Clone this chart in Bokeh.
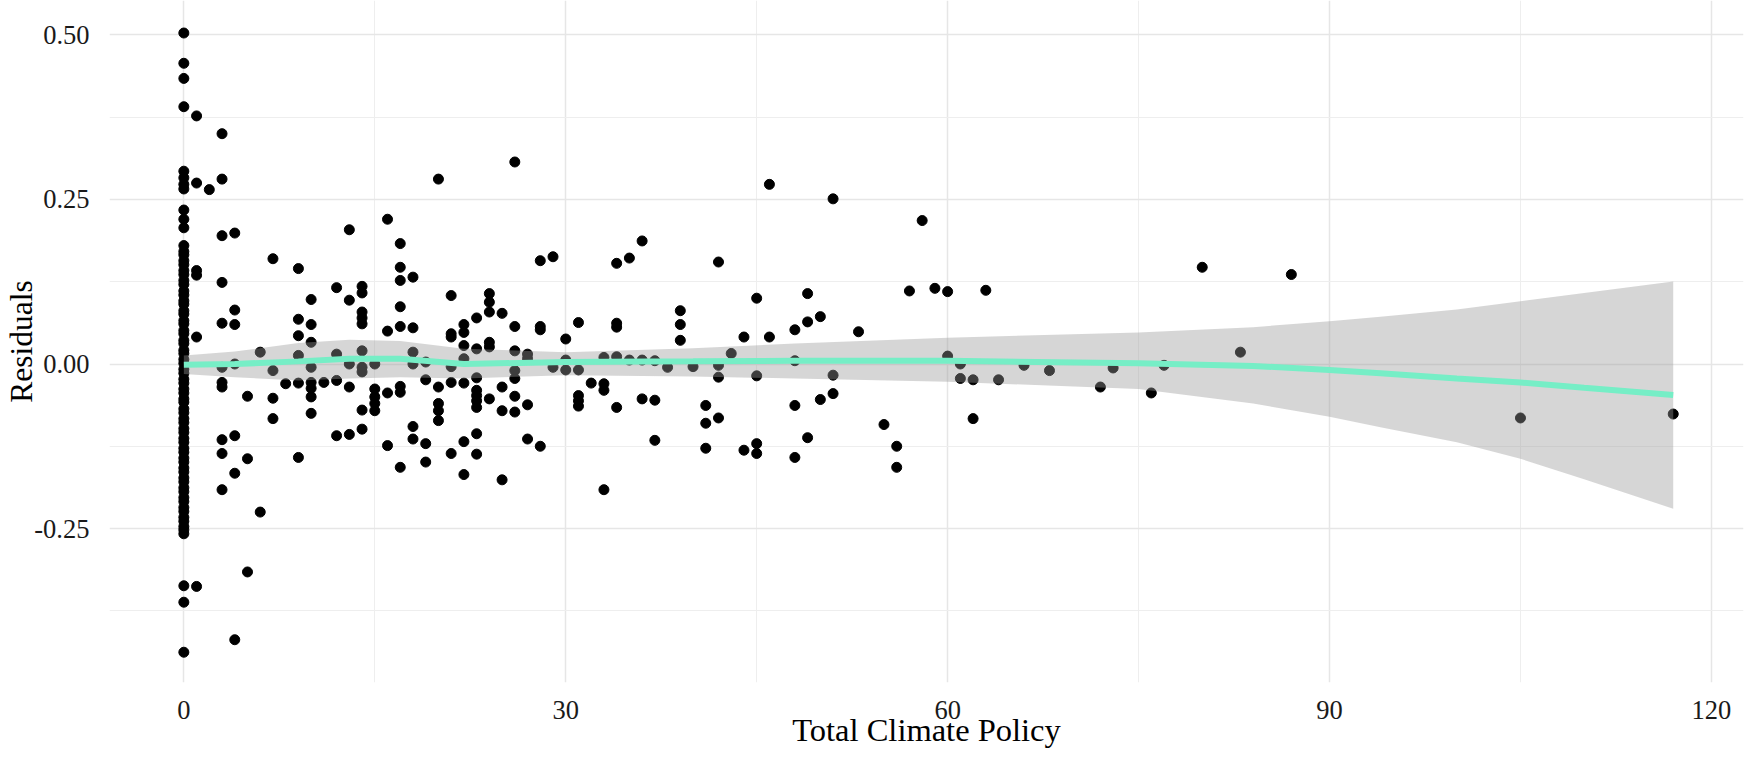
from bokeh.plotting import figure
from bokeh.models import Range1d, FixedTicker, PrintfTickFormatter
from bokeh.embed import file_html
from bokeh.resources import INLINE

# ---- data ----
# residuals of the observations with Total Climate Policy == 0 (dense column)
resid_at_zero = [0.503, 0.457, 0.434, 0.391, 0.293, 0.283, 0.273, 0.266, 0.234, 0.220, 0.207,
                 0.180, 0.171, 0.166, 0.157, 0.151, 0.142, 0.136, 0.127, 0.121, 0.111, 0.105,
                 0.096, 0.091, 0.081, 0.076, 0.066, 0.061, 0.051, 0.046, 0.036, 0.031, 0.021,
                 0.016, 0.007, 0.001, -0.008, -0.014, -0.023, -0.029, -0.038, -0.044, -0.053,
                 -0.058, -0.068, -0.074, -0.083, -0.089, -0.098, -0.104, -0.113, -0.119, -0.128,
                 -0.134, -0.143, -0.149, -0.158, -0.164, -0.173, -0.179, -0.188, -0.194, -0.203,
                 -0.209, -0.218, -0.224, -0.233, -0.239, -0.247, -0.252, -0.258,
                 -0.337, -0.362, -0.438]

# remaining observations (Total Climate Policy > 0)
policy = [1, 1, 1, 1, 1, 1,
          2,
          3, 3, 3, 3, 3, 3, 3, 3, 3, 3, 3,
          4, 4, 4, 4, 4, 4, 4,
          5, 5, 5,
          6, 6,
          7, 7, 7, 7,
          8,
          9, 9, 9, 9, 9, 9,
          10, 10, 10, 10, 10, 10, 10, 10,
          11,
          12, 12, 12, 12,
          13, 13, 13, 13, 13,
          14, 14, 14, 14, 14, 14, 14, 14, 14, 14,
          15, 15, 15, 15, 15,
          16, 16, 16, 16,
          17, 17, 17, 17, 17, 17, 17, 17,
          18, 18, 18, 18, 18, 18,
          19, 19, 19, 19,
          20, 20, 20, 20, 20,
          21, 21, 21, 21, 21, 21,
          22, 22, 22, 22, 22, 22, 22,
          23, 23, 23, 23, 23, 23, 23, 23, 23,
          24, 24, 24, 24, 24, 24,
          25, 25, 25, 25,
          26, 26, 26, 26, 26, 26, 26,
          27, 27, 27, 27,
          28, 28, 28, 28,
          29, 29,
          30, 30, 30,
          31, 31, 31, 31, 31,
          32,
          33, 33, 33, 33,
          34, 34, 34, 34, 34,
          35, 35,
          36, 36, 36,
          37, 37, 37,
          38,
          39, 39, 39,
          40,
          41, 41, 41,
          42, 42, 42, 42,
          43,
          44, 44,
          45, 45, 45, 45,
          46, 46,
          48, 48, 48, 48,
          49, 49, 49,
          50, 50,
          51, 51, 51,
          53, 55, 56, 56, 57, 58, 59, 60, 60, 61, 61, 62, 62, 63, 64, 66, 68,
          72, 73, 76, 77, 80, 83, 87, 105, 117]

residuals = [0.377, 0.275, 0.142, 0.135, 0.041, -0.338,
             0.265,
             0.350, 0.281, 0.195, 0.124, 0.062, -0.005, -0.028, -0.035, -0.115, -0.136, -0.191,
             0.199, 0.082, 0.060, 0.000, -0.109, -0.166, -0.419,
             -0.049, -0.144, -0.316,
             0.018, -0.225,
             0.160, -0.010, -0.052, -0.083,
             -0.030,
             0.145, 0.068, 0.043, 0.013, -0.029, -0.142,
             0.098, 0.060, 0.033, -0.005, -0.028, -0.037, -0.050, -0.075,
             -0.028,
             0.116, 0.015, -0.025, -0.109,
             0.204, 0.097, 0.000, -0.035, -0.107,
             0.118, 0.108, 0.079, 0.070, 0.061, 0.020, -0.005, -0.012, -0.070, -0.099,
             0.000, -0.038, -0.050, -0.060, -0.071,
             0.220, 0.050, -0.044, -0.124,
             0.183, 0.147, 0.127, 0.087, 0.057, -0.034, -0.043, -0.157,
             0.132, 0.055, 0.018, 0.000, -0.095, -0.114,
             0.003, -0.024, -0.121, -0.149,
             0.281, -0.035, -0.060, -0.071, -0.086,
             0.104, 0.046, 0.041, -0.004, -0.028, -0.136,
             0.060, 0.048, 0.028, 0.008, -0.029, -0.118, -0.168,
             0.070, 0.023, -0.021, -0.040, -0.048, -0.056, -0.066, -0.106, -0.137,
             0.107, 0.094, 0.079, 0.033, 0.026, -0.053,
             0.077, -0.035, -0.071, -0.176,
             0.307, 0.057, 0.020, -0.010, -0.022, -0.049, -0.073,
             0.015, 0.008, -0.062, -0.114,
             0.157, 0.057, 0.052, -0.125,
             0.163, -0.005,
             0.038, 0.006, -0.009,
             0.063, -0.009, -0.048, -0.056, -0.064,
             -0.029,
             0.010, -0.030, -0.040, -0.191,
             0.153, 0.062, 0.056, 0.011, -0.066,
             0.161, 0.006,
             0.187, 0.006, -0.053,
             0.005, -0.055, -0.116,
             -0.005,
             0.081, 0.060, 0.036,
             -0.004,
             -0.063, -0.090, -0.128,
             0.155, -0.002, -0.020, -0.082,
             0.016,
             0.041, -0.131,
             0.100, -0.018, -0.121, -0.136,
             0.273, 0.041,
             0.052, 0.005, -0.063, -0.142,
             0.107, 0.064, -0.112,
             0.072, -0.054,
             0.251, -0.017, -0.045,
             0.049, -0.092, -0.125, -0.157, 0.111, 0.218, 0.115, 0.110, 0.012, 0.000, -0.022,
             -0.024, -0.083, 0.112, -0.024, -0.002, -0.010,
             -0.035, -0.006, -0.044, -0.002, 0.147, 0.018, 0.136, -0.082, -0.076]

# loess smooth with confidence band
smooth_x = [0, 4, 9, 13, 17, 22, 30, 40, 48, 60, 75, 84, 90, 94, 100, 105, 110, 117]
smooth_fit = [-0.001, 0.000, 0.004, 0.008, 0.008, 0.000, 0.003, 0.004, 0.005, 0.005, 0.001,
              -0.003, -0.009, -0.014, -0.022, -0.028, -0.036, -0.047]
smooth_hi = [0.013, 0.019, 0.032, 0.037, 0.035, 0.023, 0.018, 0.024, 0.031, 0.040, 0.048,
             0.056, 0.065, 0.072, 0.083, 0.0955, 0.108, 0.1254]
smooth_lo = [-0.015, -0.020, -0.025, -0.022, -0.020, -0.022, -0.017, -0.019, -0.022, -0.027,
             -0.038, -0.060, -0.080, -0.096, -0.119, -0.144, -0.175, -0.220]

x_ticks = [0, 30, 60, 90, 120]
x_minor = [15, 45, 75, 105]
y_ticks = [-0.25, 0.0, 0.25, 0.50]
y_minor = [-0.375, -0.125, 0.125, 0.375]

FONT = "Liberation Serif"

p = figure(width=1750, height=768, output_backend="svg", toolbar_location=None,
           x_range=Range1d(-5.84, 122.52), y_range=Range1d(-0.484, 0.5524),
           min_border_left=109, min_border_right=7, min_border_top=0, min_border_bottom=86)
p.outline_line_color = None
p.background_fill_color = "white"
p.border_fill_color = "white"

p.scatter([0] * len(resid_at_zero), resid_at_zero, size=10, color="black")
p.scatter(policy, residuals, size=10, color="black")
p.varea(x=smooth_x, y1=smooth_lo, y2=smooth_hi, fill_color="#999999", fill_alpha=0.4)
p.line(smooth_x, smooth_fit, line_color="#76EEC6", line_width=6)

p.xaxis.ticker = FixedTicker(ticks=x_ticks, minor_ticks=x_minor)
p.yaxis.ticker = FixedTicker(ticks=y_ticks, minor_ticks=y_minor)
p.yaxis.formatter = PrintfTickFormatter(format="%.2f")
for ax in (p.xaxis, p.yaxis):
    ax.axis_line_color = None
    ax.major_tick_line_color = None
    ax.minor_tick_line_color = None
    ax.major_label_text_font = FONT
    ax.major_label_text_font_size = "26.5px"
    ax.major_label_text_color = "#1a1a1a"
    ax.axis_label_text_font = FONT
    ax.axis_label_text_font_style = "normal"
    ax.axis_label_text_color = "black"
p.xaxis.axis_label_text_font_size = "32.5px"
p.yaxis.axis_label_text_font_size = "31.5px"
p.xaxis.major_label_standoff = 12
p.yaxis.major_label_standoff = 14
p.xaxis.axis_label = "Total Climate Policy"
p.yaxis.axis_label = "Residuals"
p.xaxis.axis_label_standoff = -10
p.yaxis.axis_label_standoff = -8

for g in (p.xgrid, p.ygrid):
    g.grid_line_color = "#e6e6e6"
    g.grid_line_width = 1.5
    g.minor_grid_line_color = "#eeeeee"
    g.minor_grid_line_width = 1.0

open("out.html", "w").write(file_html(p, INLINE))
